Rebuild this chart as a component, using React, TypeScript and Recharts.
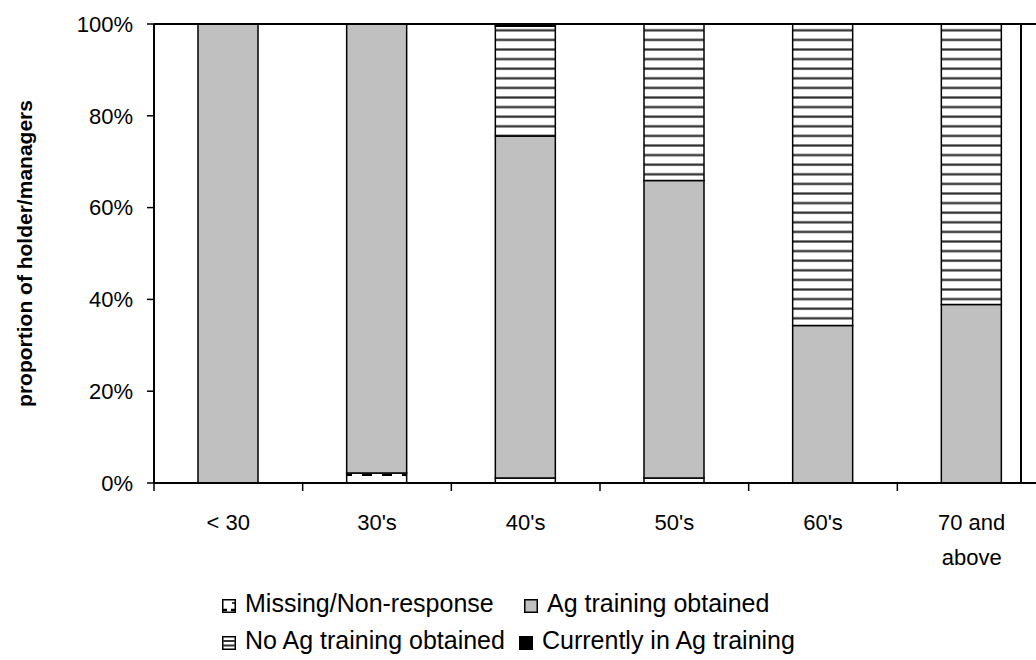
import {
  Bar,
  BarChart,
  Legend,
  ReferenceLine,
  XAxis,
  YAxis,
} from "recharts";

const categories = ["< 30", "30's", "40's", "50's", "60's", "70 and above"];
const missing = [0, 2.2, 1.1, 1.1, 0, 0];
const agObtained = [100, 97.8, 74.5, 64.8, 34.3, 38.9];
const noAgObtained = [0, 0, 23.9, 34.1, 65.7, 61.1];
const currentlyIn = [0, 0, 0.5, 0, 0, 0];
const yTicks = [0, 20, 40, 60, 80, 100];
const legendRows = [
  ["missing", "ag"],
  ["noAg", "current"],
];

const data = categories.map((name, i) => ({
  name,
  missing: missing[i],
  ag: agObtained[i],
  noAg: noAgObtained[i],
  current: currentlyIn[i],
}));

const FONT = "'Liberation Sans', Arial, sans-serif";
const GRAY = "#c0c0c0";

function CategoryTick(props: any) {
  const { x, y, payload, index } = props;
  const half = payload?.offset || 74.35;
  const words = String(payload.value);
  const lines = words === "70 and above" ? ["70 and", "above"] : [words];
  return (
    <g>
      <line x1={x - half} x2={x - half} y1={y - 8} y2={y} stroke="#000" strokeWidth={1.5} />
      {index === categories.length - 1 && (
        <line x1={x + half} x2={x + half} y1={y - 8} y2={y} stroke="#000" strokeWidth={1.5} />
      )}
      <text x={x} y={y + 39} textAnchor="middle" fontSize={22} fontFamily={FONT} fill="#000">
        {lines.map((l, i) => (
          <tspan key={i} x={x} dy={i === 0 ? 0 : 35}>
            {l}
          </tspan>
        ))}
      </text>
    </g>
  );
}

function Swatch({ kind }: { kind: string }) {
  return (
    <svg width={14} height={14} style={{ verticalAlign: "-1px", marginRight: 9 }}>
      {kind === "ag" && <rect x={0.75} y={0.75} width={12.5} height={12.5} fill={GRAY} stroke="#000" strokeWidth={1.5} />}
      {kind === "current" && <rect x={0.75} y={0.75} width={12.5} height={12.5} fill="#000" stroke="#000" strokeWidth={1.5} />}
      {kind === "missing" && (
        <g>
          <rect x={0.75} y={0.75} width={12.5} height={12.5} fill="#fff" stroke="#000" strokeWidth={1.5} />
          <line x1={1} x2={5} y1={11} y2={11} stroke="#000" strokeWidth={2.5} />
          <line x1={9} x2={13} y1={11} y2={11} stroke="#000" strokeWidth={2.5} />
          <line x1={10} x2={13} y1={4} y2={4} stroke="#000" strokeWidth={1.5} />
        </g>
      )}
      {kind === "noAg" && (
        <g>
          <rect x={0.75} y={0.75} width={12.5} height={12.5} fill="#fff" stroke="#000" strokeWidth={1.5} />
          <line x1={1} x2={13} y1={5} y2={5} stroke="#333" strokeWidth={2} />
          <line x1={1} x2={13} y1={9.5} y2={9.5} stroke="#333" strokeWidth={2} />
        </g>
      )}
    </svg>
  );
}

function LegendRows(props: any) {
  const byKey: Record<string, string> = {};
  (props.payload || []).forEach((p: any) => {
    byKey[p.dataKey] = p.value;
  });
  const colX = [
    [222, 524],
    [222, 519],
  ];
  return (
    <div style={{ position: "relative", height: 77, fontFamily: FONT, fontSize: 25, color: "#000" }}>
      {legendRows.map((row, r) =>
        row.map((key, i) => (
          <div
            key={key}
            style={{ position: "absolute", left: colX[r][i], top: 6 + r * 37, whiteSpace: "nowrap", lineHeight: "28px" }}
          >
            <Swatch kind={key} />
            {byKey[key]}
          </div>
        ))
      )}
    </div>
  );
}

export default function App() {
  return (
    <div style={{ position: "fixed", left: 0, top: 0, width: 1036, height: 660, overflow: "hidden", background: "#fff" }}>
      <BarChart
        width={1046}
        height={660}
        data={data}
        margin={{ top: 24, right: 0, bottom: 0, left: 0 }}
        barSize={60}
      >
        <defs>
          <pattern id="stripes" patternUnits="userSpaceOnUse" width={8} height={9.6}>
            <rect x={0} y={0} width={8} height={9.6} fill="#fff" />
            <line x1={0} x2={8} y1={1.5} y2={1.5} stroke="#2a2a2a" strokeWidth={2.2} />
          </pattern>
          <pattern id="dashes" patternUnits="userSpaceOnUse" width={20} height={10}>
            <rect x={0} y={0} width={20} height={10} fill="#fff" />
            <line x1={2} x2={12} y1={5} y2={5} stroke="#000" strokeWidth={2} />
          </pattern>
        </defs>
        <XAxis
          dataKey="name"
          height={100}
          axisLine={{ stroke: "#000", strokeWidth: 2 }}
          tickLine={false}
          tick={<CategoryTick />}
          interval={0}
        />
        <YAxis
          width={154}
          domain={[0, 100]}
          ticks={yTicks}
          tickFormatter={(v) => `${v}%`}
          axisLine={{ stroke: "#000", strokeWidth: 2 }}
          tickLine={{ stroke: "#000", strokeWidth: 1.5 }}
          tickSize={7}
          tickMargin={14}
          tick={{ fontSize: 22, fontFamily: FONT, fill: "#000" }}
          label={{
            position: "insideLeft",
            content: ({ viewBox }: any) => {
              const cx = (viewBox?.x ?? 0) + 32;
              const cy = (viewBox?.y ?? 24) + (viewBox?.height ?? 459) / 2;
              return (
                <text
                  x={cx}
                  y={cy}
                  transform={`rotate(-90 ${cx} ${cy})`}
                  textAnchor="middle"
                  fontSize={21}
                  fontWeight="bold"
                  fontFamily={FONT}
                  fill="#000"
                >
                  proportion of holder/managers
                </text>
              );
            },
          }}
        />
        <ReferenceLine y={100} stroke="#000" strokeWidth={2} ifOverflow="extendDomain" />
        <Legend
          verticalAlign="bottom"
          content={<LegendRows />}
          wrapperStyle={{ left: 0, width: 1036, height: 77 }}
        />
        <Bar dataKey="missing" name="Missing/Non-response" stackId="a" fill="url(#dashes)" stroke="#000" strokeWidth={1.5} isAnimationActive={false} />
        <Bar dataKey="ag" name="Ag training obtained" stackId="a" fill={GRAY} stroke="#000" strokeWidth={1.5} isAnimationActive={false} />
        <Bar dataKey="noAg" name="No Ag training obtained" stackId="a" fill="url(#stripes)" stroke="#000" strokeWidth={1.5} isAnimationActive={false} />
        <Bar dataKey="current" name="Currently in Ag training" stackId="a" fill="#000" stroke="#000" strokeWidth={1.5} isAnimationActive={false} />
      </BarChart>
      <div style={{ position: "absolute", left: 1020, top: 23, width: 2, height: 461, background: "#000" }} />
    </div>
  );
}
